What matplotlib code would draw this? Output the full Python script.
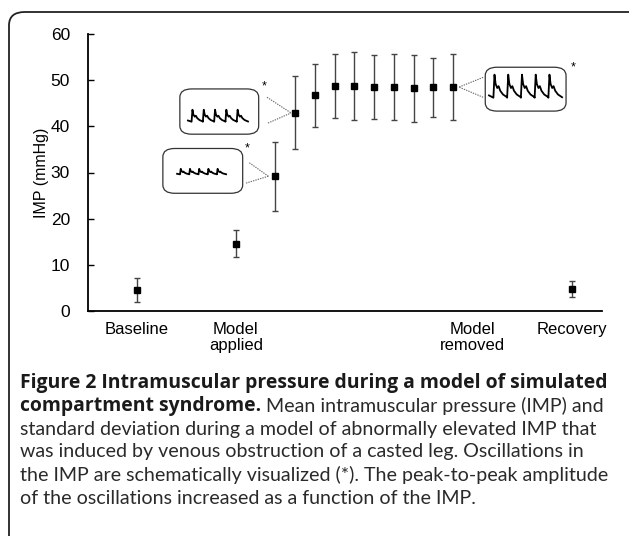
import matplotlib
matplotlib.use('Agg')
import matplotlib.pyplot as plt
from matplotlib.patches import FancyBboxPatch

W, H = 629, 536

# positions along the time course (index of each measurement)
positions = [0, 5, 7, 8, 9, 10, 11, 12, 13, 14, 15, 16, 22]
imp_mean = [4.6, 14.6, 29.2, 42.9, 46.7, 48.7, 48.7, 48.5, 48.5, 48.2, 48.5, 48.5, 4.7]
imp_sd = [2.6, 3.0, 7.5, 7.9, 6.9, 6.9, 7.4, 7.0, 7.1, 7.3, 6.4, 7.1, 1.7]

tick_pos = [0, 5, 17, 22]
tick_labels = ['Baseline', 'Model\napplied', 'Model\nremoved', 'Recovery']
y_ticks = [0, 10, 20, 30, 40, 50, 60]

# schematic pulse shape of one oscillation (normalised)
pulse_x = [0.0, 0.08, 0.16, 0.28, 0.38, 0.50, 0.70, 1.0]
pulse_y = [0.0, 1.0, 0.60, 0.42, 0.50, 0.30, 0.14, 0.02]

caption_bold_1 = 'Figure 2 Intramuscular pressure during a model of simulated'
caption_bold_2 = 'compartment syndrome.'
caption_rest_2 = 'Mean intramuscular pressure (IMP) and'
caption_rest = [
    'standard deviation during a model of abnormally elevated IMP that',
    'was induced by venous obstruction of a casted leg. Oscillations in',
    'the IMP are schematically visualized (*). The peak-to-peak amplitude',
    'of the oscillations increased as a function of the IMP.',
]


def fig_px(x, y):
    return x / W, 1 - y / H


fig = plt.figure(figsize=(W / 100, H / 100), dpi=100)
fig.patch.set_facecolor('white')

# outer frame (right and bottom are cut off)
x0, y0 = fig_px(9, 12)
frame = FancyBboxPatch((x0, -0.2), 1.2, y0 + 0.2,
                       boxstyle='round,pad=0,rounding_size=0.025',
                       transform=fig.transFigure, fill=False,
                       edgecolor='#222222', linewidth=1.3)
fig.patches.append(frame)

ax_l, ax_r, ax_t, ax_b = 88, 602, 34, 311
ax = fig.add_axes([ax_l / W, 1 - ax_b / H, (ax_r - ax_l) / W, (ax_b - ax_t) / H])
ax.set_xlim(-2.48, 23.54)
ax.set_ylim(0, 60)

ax.errorbar(positions, imp_mean, yerr=imp_sd, fmt='s', color='black',
            ecolor='#444444', elinewidth=1.0, capsize=2.5, capthick=1.0,
            markersize=4.5, zorder=3)

for side in ['top', 'right']:
    ax.spines[side].set_visible(False)
ax.spines['left'].set_linewidth(1.3)
ax.spines['bottom'].set_linewidth(1.3)
ax.set_yticks(y_ticks)
ax.set_xticks(tick_pos)
ax.set_xticklabels(tick_labels, fontsize=12, family='Liberation Sans',
                   linespacing=1.05)
ax.tick_params(axis='x', length=0, pad=8)
ax.tick_params(axis='y', direction='in', length=4, width=1, pad=13,
               labelsize=12.5)
for lab in ax.get_yticklabels():
    lab.set_family('Liberation Sans')
ax.set_ylabel('IMP (mmHg)', fontsize=11.5, family='Liberation Sans', labelpad=1)
ax.patch.set_visible(False)

# inset boxes with schematic oscillations
insets = [
    dict(box=(1.31, 5.35, 25.5, 35.2), wave=(2.03, 4.51, 29.6, 1.2),
         star=(5.6, 35.3), lines=[(5.69, 32.1), (5.52, 27.7)], tip=(6.65, 29.2)),
    dict(box=(2.17, 6.16, 38.3, 48.1), wave=(2.58, 5.62, 41.0, 2.6),
         star=(6.42, 48.6), lines=[(6.58, 46.3), (6.63, 40.7)], tip=(7.8, 42.9)),
    dict(box=(17.63, 21.72, 43.3, 52.8), wave=(17.82, 21.52, 46.2, 5.0),
         star=(22.1, 52.7), lines=[(17.52, 50.6), (17.52, 46.3)], tip=(16.3, 48.5)),
]

for ins in insets:
    bx0, bx1, by0, by1 = ins['box']
    box = FancyBboxPatch((bx0, by0), bx1 - bx0, by1 - by0,
                         boxstyle='round,pad=0,rounding_size=0.6',
                         mutation_aspect=3.0,
                         facecolor='white', edgecolor='#333333',
                         linewidth=0.9, zorder=2)
    ax.add_patch(box)
    wx0, wx1, base, amp = ins['wave']
    n_beats = 5
    lead = 0.06 * (wx1 - wx0)
    beat_w = (wx1 - wx0 - lead) / n_beats
    xs = [wx0]
    ys = [base + 0.1 * amp]
    for k in range(n_beats):
        for px_, py_ in zip(pulse_x, pulse_y):
            xs.append(wx0 + lead + (k + px_) * beat_w)
            ys.append(base + py_ * amp)
    ax.plot(xs, ys, color='black', linewidth=1.3, zorder=3,
            solid_joinstyle='round')
    for lx, ly in ins['lines']:
        ax.plot([lx, ins['tip'][0]], [ly, ins['tip'][1]], color='#666666',
                linewidth=0.8, linestyle=(0, (1.2, 1.0)), zorder=2)
    ax.text(ins['star'][0], ins['star'][1], '*', fontsize=9,
            family='Liberation Sans', ha='center', va='center')

# caption
fig.canvas.draw()
renderer = fig.canvas.get_renderer()


def fit_size(text, target_w, weight, family):
    t = fig.text(0, 0, text, fontsize=10, family=family, fontweight=weight)
    w = t.get_window_extent(renderer=renderer).width
    t.remove()
    return 10 * target_w / w


cx = 20
cy = 383
line_h = 23.0
bold_font = 'Open Sans'
reg_font = 'Lato'
bold_size = fit_size(caption_bold_1, 588, 'bold', bold_font)
reg_size = fit_size(caption_rest[0], 578, 'normal', reg_font)

fig.text(*fig_px(cx, cy), caption_bold_1, fontsize=bold_size, family=bold_font,
         fontweight='bold', va='center', color='#1a1a1a')
t2 = fig.text(*fig_px(cx, cy + line_h), caption_bold_2, fontsize=bold_size,
              family=bold_font, fontweight='bold', va='center', color='#1a1a1a')
bb = t2.get_window_extent(renderer=renderer)
fig.text(bb.x1 / W + 5 / W, 1 - (cy + line_h) / H, caption_rest_2,
         fontsize=reg_size, family=reg_font, color='#2a2a2a', va='center')

for i, line in enumerate(caption_rest):
    fig.text(*fig_px(cx, cy + (i + 2) * line_h), line, fontsize=reg_size,
             family=reg_font, color='#2a2a2a', va='center')

fig.savefig('out.png', dpi=100)
